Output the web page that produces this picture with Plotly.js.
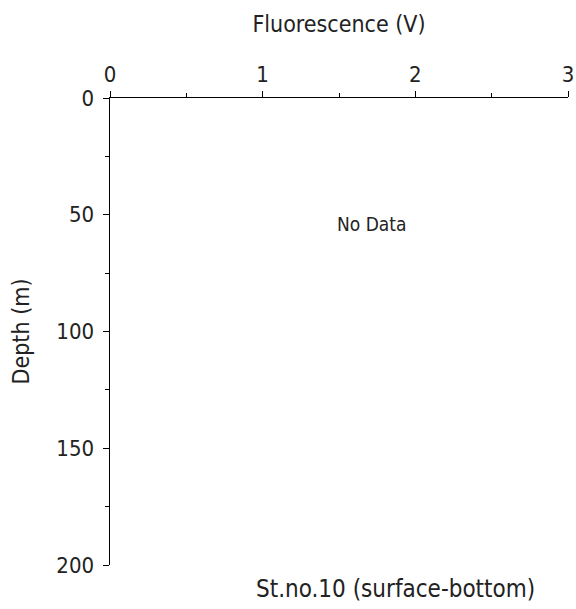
<!DOCTYPE html>
<html>
<head>
<meta charset="utf-8">
<script src="https://cdn.plot.ly/plotly-3.0.1.min.js"></script>
<style>html,body{margin:0;padding:0;background:#fff;}#chart{width:576px;height:609px;}</style>
</head>
<body>
<div id="chart"></div>
<script>
// Data: this station has no fluorescence profile
var fluorescence = [];
var depth = [];
var xTickVals = [0, 1, 2, 3];
var xTickText = ['0', '1', '2', '3'];
var yTickVals = [0, 50, 100, 150, 200];
var yTickText = ['0', '50', '100', '150', '200'];
var xRange = [0, 3];
var yRange = [200, 0];
var noDataLabel = 'No Data';
var stationLabel = 'St.no.10 (surface-bottom)';

var FONT = '"DejaVu Sans Condensed", "DejaVu Sans", Verdana, sans-serif';
var INK = '#222';

var trace = {
  x: fluorescence, y: depth, type: 'scatter', mode: 'lines',
  line: {color: '#000', width: 1}, showlegend: false, hoverinfo: 'skip'
};

var layout = {
  width: 576, height: 609,
  margin: {l: 110, r: 8, t: 98, b: 44, pad: 0},
  paper_bgcolor: '#fff', plot_bgcolor: '#fff',
  font: {family: FONT, size: 22, color: INK},
  showlegend: false,
  xaxis: {
    side: 'top', range: xRange, autorange: false,
    tickmode: 'array', tickvals: xTickVals, ticktext: xTickText,
    ticks: 'outside', ticklen: 6, tickwidth: 1, tickcolor: '#000',
    minor: {dtick: 0.5, ticks: 'outside', ticklen: 4, tickwidth: 1, tickcolor: '#000', showgrid: false},
    showline: true, linecolor: '#000', linewidth: 1.5, mirror: false,
    showgrid: false, zeroline: false,
    tickfont: {family: FONT, size: 22, color: INK},
    title: {text: 'Fluorescence (V)', font: {family: FONT, size: 23, color: INK}, standoff: 22}
  },
  yaxis: {
    range: yRange, autorange: false,
    tickmode: 'array', tickvals: yTickVals, ticktext: yTickText,
    ticks: 'outside', ticklen: 6, tickwidth: 1, tickcolor: '#000',
    minor: {dtick: 25, ticks: 'outside', ticklen: 4, tickwidth: 1, tickcolor: '#000', showgrid: false},
    showline: true, linecolor: '#000', linewidth: 1.5, mirror: false,
    showgrid: false, zeroline: false,
    ticklabelstandoff: 4,
    tickfont: {family: FONT, size: 22, color: INK},
    title: {text: 'Depth (m)', font: {family: FONT, size: 23, color: INK}, standoff: 20}
  },
  annotations: [
    {x: 1.713, y: 54, xref: 'x', yref: 'y', text: noDataLabel, showarrow: false,
     xanchor: 'center', yanchor: 'middle',
     font: {family: FONT, size: 19, color: INK}},
    {x: 0.623, y: -0.051, xref: 'paper', yref: 'paper', text: stationLabel, showarrow: false,
     xanchor: 'center', yanchor: 'middle', font: {family: FONT, size: 24, color: INK}}
  ]
};

Plotly.newPlot('chart', [trace], layout, {displayModeBar: false, staticPlot: true});
</script>
</body>
</html>
